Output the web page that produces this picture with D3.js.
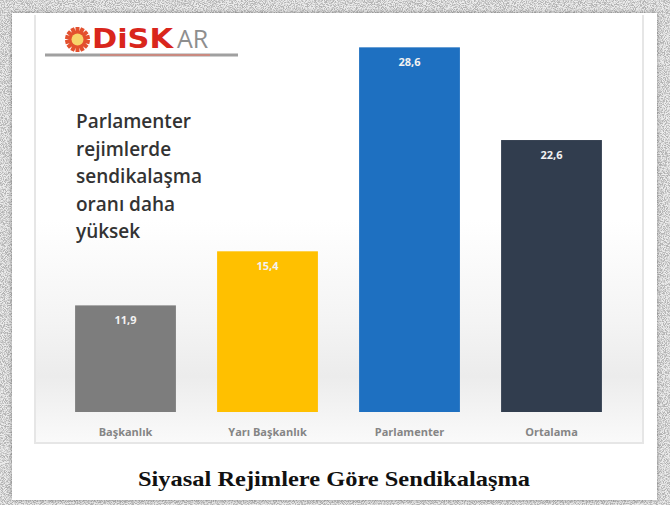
<!DOCTYPE html>
<html>
<head>
<meta charset="utf-8">
<script src="https://cdn.jsdelivr.net/npm/d3@7"></script>
<style>
  html, body { margin: 0; padding: 0; background: #fff; }
  svg { display: block; }
</style>
</head>
<body>
<div id="chart"></div>
<script>
const categories = ["Başkanlık", "Yarı Başkanlık", "Parlamenter", "Ortalama"];
const values = [11.9, 15.4, 28.6, 22.6];
const valueLabels = ["11,9", "15,4", "28,6", "22,6"];
const barColors = ["#7d7d7d", "#ffc000", "#1e70c1", "#313d4e"];
const noteLines = ["Parlamenter", "rejimlerde", "sendikalaşma", "oranı daha", "yüksek"];
const title = "Siyasal Rejimlere Göre Sendikalaşma";

const W = 670, H = 505;
const svg = d3.select("#chart").append("svg")
  .attr("width", W)
  .attr("height", H);

const defs = svg.append("defs");

// speckled grey frame
const noise = defs.append("filter").attr("id", "noise")
  .attr("filterUnits", "userSpaceOnUse")
  .attr("x", 0).attr("y", 0).attr("width", W).attr("height", H);
noise.append("feTurbulence")
  .attr("type", "fractalNoise")
  .attr("baseFrequency", 1.1)
  .attr("numOctaves", 2)
  .attr("seed", 7)
  .attr("result", "t");
noise.append("feColorMatrix")
  .attr("in", "t")
  .attr("type", "matrix")
  .attr("values", "0 0 0 0 0.45  0 0 0 0 0.45  0 0 0 0 0.45  4 0 0 0 -1.6");

const shadow = defs.append("filter").attr("id", "cardShadow")
  .attr("x", "-5%").attr("y", "-5%").attr("width", "110%").attr("height", "110%");
shadow.append("feDropShadow")
  .attr("dx", 0).attr("dy", 0).attr("stdDeviation", 2)
  .attr("flood-color", "#000").attr("flood-opacity", 0.35);

const bgGrad = defs.append("linearGradient").attr("id", "bgGrad")
  .attr("x1", 0).attr("y1", 0).attr("x2", 0).attr("y2", 1);
bgGrad.append("stop").attr("offset", "0%").attr("stop-color", "#ffffff");
bgGrad.append("stop").attr("offset", "45%").attr("stop-color", "#f4f4f4");
bgGrad.append("stop").attr("offset", "70%").attr("stop-color", "#ececec");
bgGrad.append("stop").attr("offset", "100%").attr("stop-color", "#fafafa");

svg.append("rect")
  .attr("width", W).attr("height", H)
  .attr("fill", "#ececec");
svg.append("rect")
  .attr("width", W).attr("height", H)
  .attr("fill", "#fff")
  .attr("filter", "url(#noise)");

// white card
svg.append("rect")
  .attr("x", 12).attr("y", 13)
  .attr("width", 645).attr("height", 487)
  .attr("fill", "#fff")
  .attr("filter", "url(#cardShadow)");

// inner picture frame
const frame = { x: 35, y: 15, w: 608, h: 428 };
svg.append("rect")
  .attr("x", frame.x).attr("y", 220)
  .attr("width", frame.w).attr("height", frame.h + frame.y - 220)
  .attr("fill", "url(#bgGrad)");
svg.append("path")
  .attr("d", `M${frame.x},${frame.y}V${frame.y + frame.h}H${frame.x + frame.w}V${frame.y}`)
  .attr("fill", "none")
  .attr("stroke", "#e6e6e6")
  .attr("stroke-width", 2);

// logo
const logo = svg.append("g");
logo.append("line")
  .attr("x1", 45).attr("x2", 238)
  .attr("y1", 55).attr("y2", 55)
  .attr("stroke", "#a0a0a0").attr("stroke-width", 3);
logo.append("line")
  .attr("x1", 100).attr("x2", 210)
  .attr("y1", 55).attr("y2", 55)
  .attr("stroke", "#c98a80").attr("stroke-width", 2);
const gear = logo.append("g").attr("transform", "translate(77.5,39.5)");
d3.range(14).forEach(i => {
  gear.append("rect")
    .attr("x", -2).attr("y", -12.5)
    .attr("width", 4).attr("height", 5)
    .attr("fill", "#e3502e")
    .attr("transform", `rotate(${i * 360 / 14})`);
});
gear.append("circle").attr("r", 9).attr("fill", "#e3502e");
gear.append("circle").attr("r", 6).attr("fill", "#f7d36a");
logo.append("text")
  .attr("x", 92).attr("y", 48)
  .attr("font-family", "DejaVu Sans, sans-serif")
  .attr("font-weight", "bold")
  .attr("font-size", 26)
  .attr("fill", "#d9261c")
  .attr("textLength", 81)
  .attr("lengthAdjust", "spacingAndGlyphs")
  .text("DiSK");
logo.append("text")
  .attr("x", 177).attr("y", 48)
  .attr("font-family", "Open Sans, sans-serif")
  .attr("font-size", 25)
  .attr("fill", "#8e8e8e")
  .text("AR");

// scales
const x = d3.scaleBand()
  .domain(categories)
  .range([54.5, 622.5])
  .paddingInner(0.29)
  .paddingOuter(0.145);

const y = d3.scaleLinear()
  .domain([5, 30])
  .range([412, 25.7]);

const bars = svg.append("g");
bars.selectAll("rect")
  .data(values)
  .join("rect")
  .attr("x", (d, i) => x(categories[i]))
  .attr("y", d => y(d))
  .attr("width", x.bandwidth())
  .attr("height", d => y(5) - y(d))
  .attr("fill", (d, i) => barColors[i]);

bars.selectAll("text.val")
  .data(values)
  .join("text")
  .attr("class", "val")
  .attr("x", (d, i) => x(categories[i]) + x.bandwidth() / 2)
  .attr("y", d => y(d) + 19)
  .attr("text-anchor", "middle")
  .attr("font-family", "Open Sans, sans-serif")
  .attr("font-weight", "bold")
  .attr("font-size", 11)
  .attr("fill", "#f2f2f2")
  .text((d, i) => valueLabels[i]);

// category axis labels
svg.append("g")
  .selectAll("text")
  .data(categories)
  .join("text")
  .attr("x", d => x(d) + x.bandwidth() / 2)
  .attr("y", 436)
  .attr("text-anchor", "middle")
  .attr("font-family", "Open Sans, sans-serif")
  .attr("font-weight", "bold")
  .attr("font-size", 11)
  .attr("fill", "#858585")
  .text(d => d);

// note
svg.append("g")
  .selectAll("text")
  .data(noteLines)
  .join("text")
  .attr("x", 76)
  .attr("y", (d, i) => 128 + i * 27.5)
  .attr("font-family", "Open Sans, sans-serif")
  .attr("font-weight", 600)
  .attr("font-size", 19)
  .attr("fill", "#333")
  .text(d => d);

// caption
svg.append("text")
  .attr("x", 334)
  .attr("y", 486)
  .attr("text-anchor", "middle")
  .attr("font-family", "Liberation Serif, serif")
  .attr("font-weight", "bold")
  .attr("font-size", 22)
  .attr("fill", "#111")
  .attr("textLength", 392)
  .attr("lengthAdjust", "spacingAndGlyphs")
  .text(title);
</script>
</body>
</html>
